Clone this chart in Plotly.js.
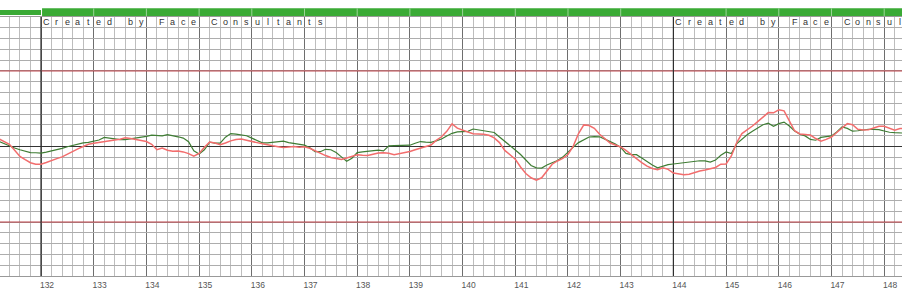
<!DOCTYPE html>
<html>
<head>
<meta charset="utf-8">
<script src="https://cdn.plot.ly/plotly-3.0.1.min.js"></script>
<style>html,body{margin:0;padding:0;background:#fff;}#chart{width:902px;height:298px;}</style>
</head>
<body>
<div id="chart"></div>
<script>
// time axis: minutes, samples every 0.1 min starting at 131.2
const sampleStart = 131.2;
const sampleStep = 0.1;

const tickValues = [132,133,134,135,136,137,138,139,140,141,142,143,144,145,146,147,148];
const tickLabels = ['132','133','134','135','136','137','138','139','140','141','142','143','144','145','146','147','148'];

// red trace
const redSeries = [143.6,142.4,141.0,138.3,135.4,133.9,132.5,131.8,131.8,132.6,
133.6,134.4,135.2,136.5,137.8,138.9,140.0,141.0,141.5,141.8,
142.2,142.6,143.0,143.4,144.0,143.7,143.2,142.9,142.3,141.0,
138.5,139.3,138.3,137.8,137.9,137.5,136.7,135.5,136.8,139.6,
142.1,141.6,140.8,141.6,142.6,143.2,143.5,142.9,142.2,141.8,
141.3,140.7,140.3,139.9,139.5,139.8,140.0,139.6,139.9,139.2,
138.0,136.8,135.8,134.9,134.3,134.0,134.7,135.4,136.2,135.9,
135.8,136.4,137.0,137.1,136.9,136.2,136.6,137.1,137.7,138.5,
139.3,139.9,140.7,142.8,144.5,147.0,150.5,148.5,147.5,146.7,
145.9,145.8,145.7,145.2,144.0,141.8,138.2,136.2,134.1,130.5,
127.5,125.5,124.4,125.5,128.4,131.8,133.3,134.5,136.3,140.2,
146.0,150.0,149.7,148.4,145.7,143.6,141.6,140.7,139.8,138.2,
136.5,134.4,132.5,130.9,129.8,129.2,130.1,129.4,127.7,127.2,
126.9,127.1,128.0,128.6,129.1,129.6,130.3,131.8,131.9,135.6,
141.7,146.0,147.6,149.5,151.5,153.8,155.7,155.6,157.0,156.5,
152.0,147.3,145.8,145.6,145.3,143.7,142.5,143.3,144.4,146.5,
148.5,150.6,150.1,148.0,147.6,147.7,148.6,149.4,149.4,148.5,
147.6,148.3,148.5];

// green trace
const greenSeries = [142.4,141.4,140.1,139.3,138.5,137.8,137.2,137.1,136.9,137.4,
137.9,138.4,139.1,139.9,140.6,141.3,141.7,141.9,142.4,143.0,
144.2,143.8,143.4,143.2,143.2,143.5,143.8,144.2,144.7,145.3,
145.0,144.9,145.5,145.1,144.5,143.9,142.2,138.0,136.5,138.5,
142.0,141.6,141.6,144.3,146.0,145.7,145.3,145.0,143.9,142.8,
141.7,141.7,141.9,142.2,142.5,141.8,141.3,141.1,140.6,139.4,
137.6,137.6,138.7,138.5,137.2,135.2,133.2,134.6,137.2,137.5,
137.7,138.1,138.3,138.0,140.3,140.4,140.5,140.6,140.6,141.5,
142.3,142.0,141.9,142.6,143.5,144.9,146.1,146.8,146.8,147.0,
148.1,147.7,147.4,147.1,146.5,144.4,142.5,140.4,138.4,136.3,
133.9,131.2,130.1,130.0,131.4,132.6,133.5,135.1,137.5,139.7,
141.8,143.2,144.4,144.6,144.5,143.4,142.3,141.1,139.6,136.8,
136.2,136.2,134.7,133.0,131.4,130.1,130.9,131.6,131.9,132.2,
132.5,132.8,133.1,133.4,133.3,132.8,133.7,135.9,137.5,136.7,
141.2,143.5,145.4,147.1,148.7,150.1,150.8,149.4,150.6,151.3,
149.5,147.2,145.7,144.9,143.3,142.9,144.2,144.7,144.9,146.7,
149.1,148.4,147.1,147.3,147.7,148.0,147.9,147.8,147.2,146.6,
146.4,146.3,146.2];

// reference levels
const upperLimit = 175;
const lowerLimit = 105;
const baseline = 140;
const pageStarts = [132, 144];
const watermark = 'Created by Face Consultants';

const X_RANGE = [131.222, 148.338];
const Y_RANGE = [80, 200];

const shapes = [];
// red limit lines and baseline (between gridlines and traces)
[upperLimit, lowerLimit].forEach(v => shapes.push({type:'line', xref:'x', x0:X_RANGE[0], x1:X_RANGE[1], yref:'y', y0:v, y1:v, layer:'between', line:{color:'#b8383f', width:1}}));
shapes.push({type:'line', xref:'x', x0:X_RANGE[0], x1:X_RANGE[1], yref:'y', y0:baseline, y1:baseline, layer:'between', line:{color:'#333', width:1.1}});
// page boundaries
pageStarts.forEach(p => shapes.push({type:'line', xref:'x', x0:p, x1:p, yref:'y', y0:Y_RANGE[0], y1:Y_RANGE[1], layer:'between', line:{color:'#2e2e2e', width:1.2}}));
// green header bar
shapes.push({type:'rect', xref:'x', x0:X_RANGE[0], x1:132, yref:'paper', y0:1.0077, y1:1.027, fillcolor:'#3aaa35', line:{width:0}});
shapes.push({type:'rect', xref:'x', x0:132.02, x1:X_RANGE[1], yref:'paper', y0:1.0039, y1:1.0336, fillcolor:'#3aaa35', line:{width:0}});
tickValues.forEach(v => { if (pageStarts.indexOf(v) < 0) shapes.push({type:'line', xref:'x', x0:v, x1:v, yref:'paper', y0:1.0039, y1:1.0336, line:{color:'#9ad497', width:1}}); });

const annotations = [];
pageStarts.forEach(p => {
  for (let i = 0; i < watermark.length; i++) {
    const ch = watermark[i];
    if (ch === ' ') continue;
    const xc = p + (i + 0.5) * 0.2;
    if (xc > X_RANGE[1] - 0.02) continue;
    annotations.push({xref:'x', yref:'y', x:xc, y:197.6, text:ch, showarrow:false,
      font:{family:'Liberation Sans, Arial, sans-serif', size:9, color:'#333'}, xanchor:'center', yanchor:'middle'});
  }
});

const data = [
  {type:'scatter', mode:'lines', x0:sampleStart, dx:sampleStep, y:greenSeries, line:{color:'#3f7d34', width:1.2}, hoverinfo:'skip'},
  {type:'scatter', mode:'lines', x0:sampleStart, dx:sampleStep, y:redSeries, line:{color:'#f26d6d', width:1.5}, hoverinfo:'skip'}
];

const layout = {
  width:902, height:298,
  margin:{l:0, r:0, t:17, b:22, pad:0},
  paper_bgcolor:'#fff', plot_bgcolor:'#fff',
  showlegend:false,
  xaxis:{range:X_RANGE, tickmode:'array', tickvals:tickValues, ticktext:tickLabels,
    showgrid:true, gridcolor:'#6e6e6e', gridwidth:1, zeroline:false,
    showline:true, linecolor:'#999', linewidth:1, mirror:true,
    ticks:'', ticklabelshift:6, ticklabelstandoff:1,
    tickfont:{family:'Liberation Sans, Arial, sans-serif', size:8.5, color:'#555'},
    minor:{tickmode:'linear', tick0:132, dtick:0.2, showgrid:true, gridcolor:'#bdbdbd', gridwidth:1, ticks:''}},
  yaxis:{range:Y_RANGE, tickmode:'linear', tick0:80, dtick:5, showgrid:true, gridcolor:'#adadad', gridwidth:1,
    zeroline:false, showticklabels:false, ticks:'', showline:false},
  shapes:shapes,
  annotations:annotations
};

Plotly.newPlot('chart', data, layout, {staticPlot:true, displayModeBar:false});
</script>
</body>
</html>
